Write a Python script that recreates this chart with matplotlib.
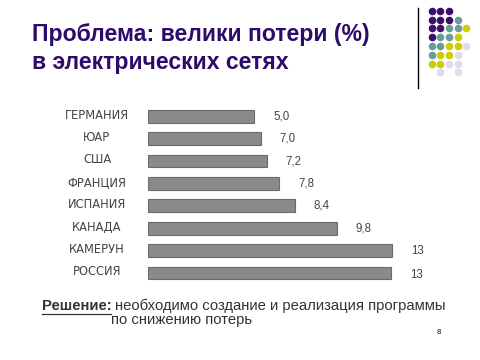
import matplotlib
matplotlib.use("Agg")
import matplotlib.pyplot as plt
from matplotlib.transforms import blended_transform_factory

# countries and losses (%), top to bottom
countries = ["ГЕРМАНИЯ", "ЮАР", "США", "ФРАНЦИЯ", "ИСПАНИЯ", "КАНАДА", "КАМЕРУН", "РОССИЯ"]
losses = [5.0, 7.0, 7.2, 7.8, 8.4, 9.8, 13, 13]
loss_labels = ["5,0", "7,0", "7,2", "7,8", "8,4", "9,8", "13", "13"]
# the scanned chart is not to scale, so bars are drawn with the lengths as they appear
bar_len = [5.67, 6.01, 6.33, 6.98, 7.83, 10.05, 13.0, 12.95]

# decorative dot grid in the corner (P purple, T teal, Y yellow, L lavender)
dot_rows = ["PPP..", "PPPT.", "PPTTY", "PTTY.", "TTYYL", "TYYL.", "YYLL.", ".L.L."]
dot_colors = {"P": "#3b0f6b", "T": "#6a9c9c", "Y": "#cfcc00", "L": "#dcdcee"}

plt.rcParams['font.family'] = ['Liberation Sans', 'DejaVu Sans']

fig = plt.figure(figsize=(4.8, 3.6), dpi=100)
fig.patch.set_facecolor("white")

# overlay axes in pixel units for the slide decoration and text
deco = fig.add_axes([0, 0, 1, 1])
deco.set_xlim(0, 480)
deco.set_ylim(360, 0)
deco.axis("off")

for r, row in enumerate(dot_rows):
    for c, ch in enumerate(row):
        if ch == ".":
            continue
        deco.scatter(431.7 + c * 8.65, 10.7 + r * 8.8, s=30, color=dot_colors[ch], linewidths=0)
deco.plot([418, 418], [8, 88], color="black", lw=1)

title_color = "#2e0b6a"
deco.text(32, 34, "Проблема: велики потери (%)", fontsize=16.6, fontweight="bold",
          color=title_color, va="center", ha="left")
deco.text(32, 63, "в электрических сетях", fontsize=16.6, fontweight="bold",
          color=title_color, va="center", ha="left")

# bar chart
ax = fig.add_axes([147.5 / 480, (360 - 284.2) / 360, 301.3 / 480, 179.2 / 360])
ax.set_xlim(0, 16)
ax.set_ylim(len(countries) - 0.5, -0.5)
ax.axis("off")

ypos = list(range(len(countries)))
ax.barh(ypos, bar_len, height=0.57, color="#8a8a8a", edgecolor="#6a6a6a", linewidth=0.8)

lab_tr = blended_transform_factory(fig.transFigure, ax.transData)
for i, name in enumerate(countries):
    ax.text(97 / 480, i - 0.05, name, transform=lab_tr, ha="center", va="center",
            fontsize=8.3, color="#444444", family="DejaVu Sans")
    ax.annotate(loss_labels[i], (bar_len[i], i + (0.1 if i == 7 else 0)),
                xytext=(13.7, 0), textcoords="offset points",
                ha="left", va="center", fontsize=8.3, color="#444444")

# footer
fs = 10.7
t = deco.text(41.7, 306, "Решение:", fontsize=fs, fontweight="bold", color="#333333",
              va="center", ha="left")
deco.text(115, 306, "необходимо создание и реализация программы", fontsize=fs,
          color="#333333", va="center", ha="left")
deco.text(111, 320, "по снижению потерь", fontsize=fs, color="#333333",
          va="center", ha="left")
deco.text(437, 333, "8", fontsize=5.5, color="black", va="center", ha="left")

fig.canvas.draw()
bb = t.get_window_extent()
inv = deco.transData.inverted()
(x0, y0), (x1, _) = inv.transform([(bb.x0, bb.y0), (bb.x1, bb.y0)])
deco.plot([x0, x1], [y0 + 0.5, y0 + 0.5], color="#333333", lw=0.9)

fig.savefig("out.png", dpi=100)
